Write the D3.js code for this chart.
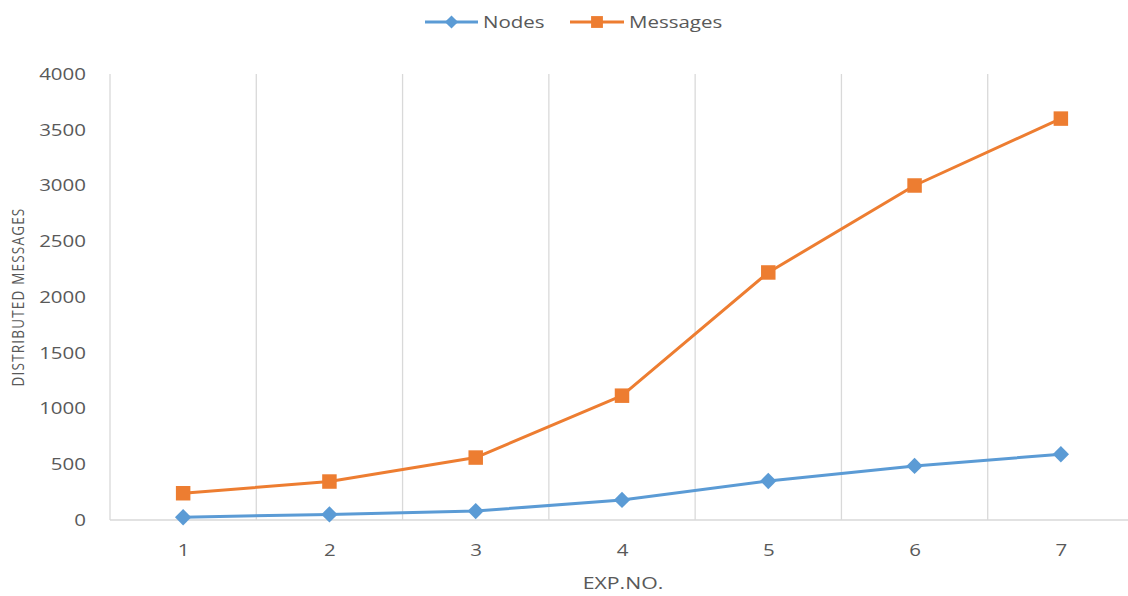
<!DOCTYPE html>
<html>
<head>
<meta charset="utf-8">
<script src="https://cdn.jsdelivr.net/npm/d3@7/dist/d3.min.js"></script>
<style>
  html, body { margin: 0; padding: 0; background: #fff; }
  svg { display: block; }
  text { font-family: "Open Sans", "Liberation Sans", sans-serif; fill: #595959; }
</style>
</head>
<body>
<svg id="chart" width="1128" height="596"></svg>
<script>
// Experiment numbers and the two measured series
const categories = ["1", "2", "3", "4", "5", "6", "7"];
const nodes = [25, 50, 80, 180, 350, 485, 590];
const messages = [240, 345, 560, 1115, 2220, 3000, 3600];
const yTicks = [0, 500, 1000, 1500, 2000, 2500, 3000, 3500, 4000];
const seriesNames = ["Nodes", "Messages"];

const colors = { Nodes: "#5B9BD5", Messages: "#ED7D31" };
const grid = "#d9d9d9";
const stretchX = 1.25;

const svg = d3.select("#chart");
const plot = { left: 110, right: 1134, top: 74, bottom: 520 };

const x = d3.scaleBand().domain(categories).range([plot.left, plot.right]).paddingInner(0).paddingOuter(0);
const cx = c => x(c) + x.bandwidth() / 2;
const y = d3.scaleLinear().domain([0, 4000]).range([plot.bottom, plot.top]);

// Widen text horizontally around its own anchor point
function widen(sel) {
  sel.each(function () {
    const t = d3.select(this);
    const tx = +t.attr("x") || 0, ty = +t.attr("y") || 0;
    t.attr("transform", `translate(${tx},${ty}) scale(${stretchX},1) translate(${-tx},${-ty})`);
  });
}

// Vertical gridlines at category boundaries
svg.append("g")
  .selectAll("line")
  .data(categories)
  .join("line")
  .attr("x1", d => x(d)).attr("x2", d => x(d))
  .attr("y1", plot.top).attr("y2", plot.bottom)
  .attr("stroke", grid).attr("stroke-width", 1.3);

// Category axis along the bottom
const xAxis = svg.append("g")
  .attr("transform", `translate(0,${plot.bottom})`)
  .call(d3.axisBottom(d3.scalePoint().domain(categories).range([cx(categories[0]), cx(categories[6])]))
    .tickSize(0).tickPadding(24));
xAxis.select(".domain").remove();
xAxis.append("line")
  .attr("x1", plot.left).attr("x2", plot.right).attr("y1", 0).attr("y2", 0)
  .attr("stroke", grid).attr("stroke-width", 1.6);
xAxis.selectAll("text")
  .attr("fill", "#595959").style("font-size", "16.4px")
  .call(widen);

// Value axis on the left
const yAxis = svg.append("g")
  .attr("transform", `translate(${plot.left},0)`)
  .call(d3.axisLeft(y).tickValues(yTicks).tickFormat(d3.format("d")).tickSize(0).tickPadding(24));
yAxis.select(".domain").remove();
yAxis.selectAll("text")
  .attr("fill", "#595959").style("font-size", "16.4px")
  .call(widen);

// Axis titles
svg.append("text")
  .attr("x", 623).attr("y", 589)
  .attr("text-anchor", "middle")
  .style("font-size", "17px")
  .text("EXP.NO.")
  .call(widen);

svg.append("text")
  .attr("transform", `translate(24,${(plot.top + plot.bottom) / 2}) rotate(-90) scale(1,${stretchX})`)
  .attr("text-anchor", "middle")
  .style("font-size", "13.5px")
  .style("letter-spacing", "1.2px")
  .text("DISTRIBUTED MESSAGES");

// Series lines and markers
const line = d3.line().x((d, i) => cx(categories[i])).y(d => y(d));
const seriesData = { Nodes: nodes, Messages: messages };

seriesNames.forEach(name => {
  const vals = seriesData[name];
  svg.append("path")
    .datum(vals)
    .attr("d", line)
    .attr("fill", "none")
    .attr("stroke", colors[name])
    .attr("stroke-width", 3)
    .attr("stroke-linejoin", "round");
  const sym = name === "Nodes"
    ? d3.symbol().type(d3.symbolDiamond2).size(170)
    : d3.symbol().type(d3.symbolSquare).size(210);
  svg.append("g")
    .selectAll("path")
    .data(vals)
    .join("path")
    .attr("transform", (d, i) => `translate(${cx(categories[i])},${y(d)})`)
    .attr("d", sym)
    .attr("fill", colors[name]);
});

// Legend
const legend = svg.append("g");
const legendItems = [
  { name: "Nodes", x0: 425, x1: 478, tx: 483 },
  { name: "Messages", x0: 570, x1: 624, tx: 629 }
];
legendItems.forEach(item => {
  const ly = 22;
  legend.append("line")
    .attr("x1", item.x0).attr("x2", item.x1).attr("y1", ly).attr("y2", ly)
    .attr("stroke", colors[item.name]).attr("stroke-width", 3);
  const sym = item.name === "Nodes"
    ? d3.symbol().type(d3.symbolDiamond2).size(110)
    : d3.symbol().type(d3.symbolSquare).size(140);
  legend.append("path")
    .attr("transform", `translate(${(item.x0 + item.x1) / 2},${ly})`)
    .attr("d", sym)
    .attr("fill", colors[item.name]);
  legend.append("text")
    .attr("x", item.tx).attr("y", ly)
    .attr("dy", "0.35em")
    .style("font-size", "16.4px")
    .text(item.name)
    .call(widen);
});
</script>
</body>
</html>
